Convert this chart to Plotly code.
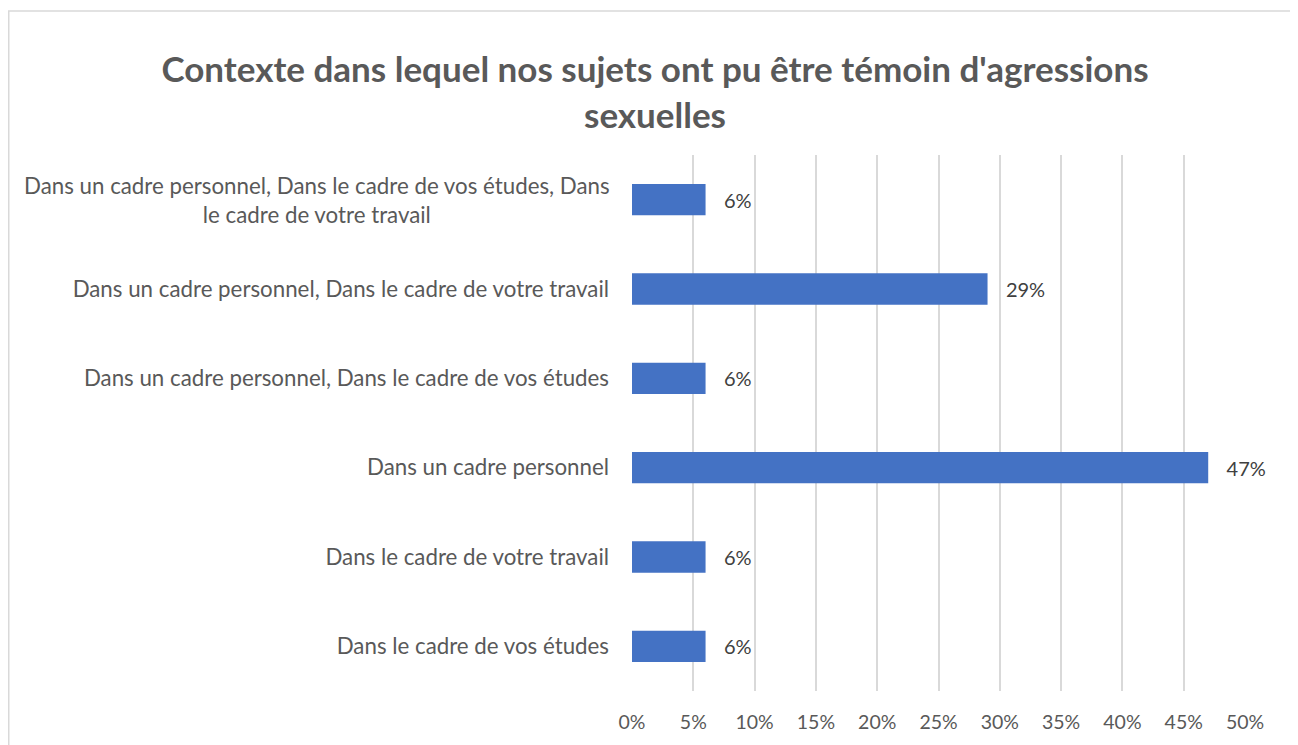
import plotly.graph_objects as go

categories = [
    "Dans le cadre de vos études",
    "Dans le cadre de votre travail",
    "Dans un cadre personnel",
    "Dans un cadre personnel, Dans le cadre de vos études",
    "Dans un cadre personnel, Dans le cadre de votre travail",
    "Dans un cadre personnel, Dans le cadre de vos études, Dans<br>le cadre de votre travail",
]
values = [6, 6, 47, 6, 29, 6]
labels = [f"   {v}%" for v in values]
tick_vals = [0, 5, 10, 15, 20, 25, 30, 35, 40, 45, 50]
tick_text = [f"{t}%" for t in tick_vals]
title = "Contexte dans lequel nos sujets ont pu être témoin d'agressions<br>sexuelles"

# page body has an 8px margin; coordinates below are in figure space
W, H = 1298, 745
L, R, T, B = 624, 61, 147, 62
pw, ph = W - L - R, H - T - B
FONT = "Lato"
CAT_SIZE = 22.3

# multi-line labels are drawn as centred annotations, single-line ones as ticks
cat_ticktext = ["" if "<br>" in c else c for c in categories]
wrapped = [c for c in categories if "<br>" in c]

fig = go.Figure(go.Bar(
    y=categories, x=values, orientation="h",
    marker=dict(color="#4472C4", line=dict(width=0)),
    width=0.35,
    text=labels, textposition="outside",
    textfont=dict(color="#404040", size=20, family=FONT),
    cliponaxis=False,
))

annotations = [dict(text=c, xref="paper", yref="y", x=-20 / pw, y=c, xanchor="right",
                    yanchor="middle", align="center", showarrow=False,
                    font=dict(family=FONT, size=CAT_SIZE, color="#595959"))
               for c in wrapped]

fig.update_layout(
    width=W, height=H,
    margin=dict(l=L, r=R, t=T, b=B),
    paper_bgcolor="white", plot_bgcolor="white",
    font=dict(family=FONT, color="#595959", size=CAT_SIZE),
    title=dict(text=title, x=(655 - 8) / W, xanchor="center", y=1 - 74 / H, yanchor="middle",
               font=dict(family=FONT, size=35, color="#595959", weight="bold")),
    showlegend=False,
    xaxis=dict(range=[0, 50], tickvals=tick_vals, ticktext=tick_text, showgrid=True,
               gridcolor="#d9d9d9", gridwidth=1.5, zeroline=False, showline=False,
               ticks="", ticklabelstandoff=17, tickfont=dict(size=19.5)),
    yaxis=dict(showgrid=False, zeroline=False, showline=False, ticks="",
               tickvals=categories, ticktext=cat_ticktext, ticklabelstandoff=22),
    annotations=annotations,
    shapes=[dict(type="rect", xref="paper", yref="paper",
                 x0=(0.75 - L) / pw, x1=(1288 - L) / pw,
                 y0=-0.3, y1=(H - B - 3) / ph,
                 line=dict(color="#d9d9d9", width=1.5), layer="below")],
)

fig.write_html("out.html")
